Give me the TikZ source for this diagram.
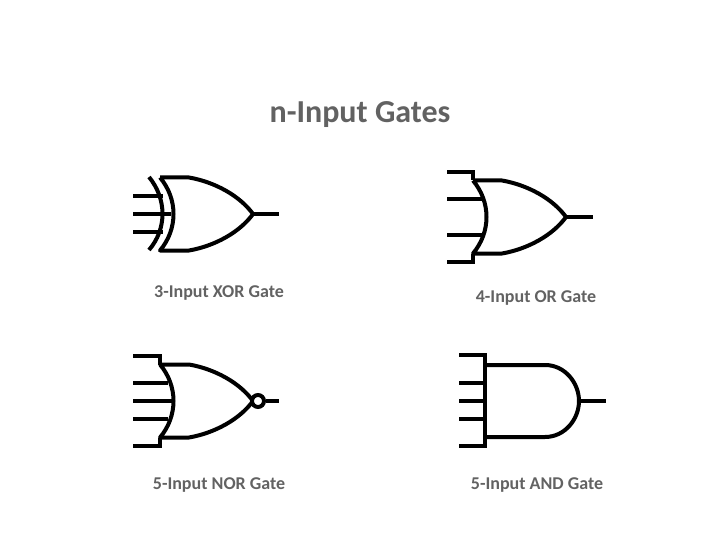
\documentclass[tikz,border=0pt]{standalone}
\usepackage{fontspec}
\setmainfont{Carlito}
\definecolor{titlegray}{HTML}{626262}
\tikzset{
  wire/.style={draw=black,line width=4pt},
  caption/.style={text=titlegray,font=\bfseries\fontsize{18}{21}\selectfont,inner sep=0pt},
  orbody/.pic={
    \draw[wire,line join=round] (-93,-36.5) coordinate (-top) -- (-64,-36.5)
      .. controls (-38,-32) and (-13,-18) .. (0,0) coordinate (-tip)
      .. controls (-13,18) and (-38,32) .. (-64,36.5) -- (-93,36.5) coordinate (-bot)
      .. controls (-75,15) and (-75,-15) .. (-93,-36.5);
  }
}
\begin{document}
\begin{tikzpicture}[x=1pt,y=-1pt]
\useasboundingbox (0,0) rectangle (720,540);
\node[text=titlegray,font=\bfseries\fontsize{32}{38}\selectfont,inner sep=0pt] (title) at (360,115) {n-Input Gates};
% XOR gate
\pic (xor) at (253,214) {orbody};
\coordinate (xorout) at (279,214);
\draw[wire] (xor-tip) -- (xorout);
\coordinate (xoroutera) at (149,177);
\coordinate (xorouterb) at (149,250);
\draw[wire] (xoroutera) .. controls (167,199) and (167,229) .. (xorouterb);
\foreach \y/\xend in {196/163,214/171,232/163} {
  \coordinate (in\y) at (133,\y);
  \coordinate (end\y) at (\xend,\y);
  \draw[wire] (in\y) -- (end\y);
}
\node[caption] (xorlabel) at (219,293) {3-Input XOR Gate};
% OR gate
\pic (or) at (566,217) {orbody};
\coordinate (orout) at (593,217);
\draw[wire] (or-tip) -- (orout);
\coordinate (ora) at (447,172);
\coordinate (orb) at (447,262);
\draw[wire] (ora) -| (or-top);
\draw[wire] (orb) -| (or-bot);
\foreach \y/\xend in {199/482,235/482} {
  \coordinate (in\y) at (447,\y);
  \coordinate (end\y) at (\xend,\y);
  \draw[wire] (in\y) -- (end\y);
}
\node[caption] (orlabel) at (536,298) {4-Input OR Gate};
% NOR gate
\pic (nor) at (253,401) {orbody};
\node[circle,draw=black,line width=4pt,fill=white,minimum size=12pt,inner sep=0pt] (bubble) at (258,401) {};
\coordinate (norout) at (279,401);
\draw[wire] (bubble) -- (norout);
\coordinate (nora) at (133,356);
\coordinate (norb) at (133,446);
\draw[wire] (nora) -| (nor-top);
\draw[wire] (norb) -| (nor-bot);
\foreach \y/\xend in {383/168,401/173,419/168} {
  \coordinate (in\y) at (133,\y);
  \coordinate (end\y) at (\xend,\y);
  \draw[wire] (in\y) -- (end\y);
}
\node[caption] (norlabel) at (219,485) {5-Input NOR Gate};
% AND gate
\coordinate (andtop) at (485,355);
\coordinate (andbot) at (485,446);
\draw[wire,line cap=rect] (andtop) -- (andbot);
\draw[wire] (485,365) -- (545,365) .. controls (565,365) and (579,383) .. (579,401) coordinate (andtip)
  .. controls (579,419) and (565,437) .. (545,437) -- (485,437);
\coordinate (andout) at (606,401);
\draw[wire] (andtip) -- (andout);
\foreach \y in {355,383,401,419,446} {
  \coordinate (in\y) at (459,\y);
  \coordinate (end\y) at (485,\y);
  \draw[wire] (in\y) -- (end\y);
}
\node[caption] (andlabel) at (537,485) {5-Input AND Gate};
\end{tikzpicture}
\end{document}
